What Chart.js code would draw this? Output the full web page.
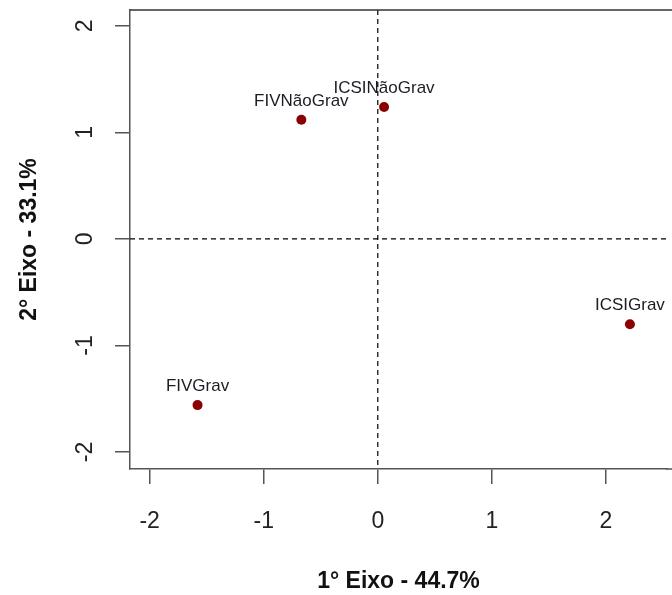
<!DOCTYPE html>
<html>
<head>
<meta charset="utf-8">
<script src="https://cdn.jsdelivr.net/npm/chart.js@4.4.1/dist/chart.umd.min.js"></script>
<style>
  html, body { margin: 0; padding: 0; background: #fff; }
  #wrap { width: 672px; height: 595px; }
</style>
</head>
<body>
<div id="wrap"><canvas id="chart" width="672" height="595"></canvas></div>
<script>
// dados
const nomes = ["FIVNãoGrav", "ICSINãoGrav", "ICSIGrav", "FIVGrav"];
const eixo1 = [-0.67, 0.055, 2.21, -1.58];
const eixo2 = [1.12, 1.24, -0.80, -1.56];
const xTicks = [-2, -1, 0, 1, 2];
const yTicks = [-2, -1, 0, 1, 2];

const FONT = "'Liberation Sans', Arial, sans-serif";
const AXIS_COLOR = "#555";

const pontos = eixo1.map((x, i) => ({ x: x, y: eixo2[i] }));

// linhas tracejadas em zero, caixa, rótulos dos pontos e ticks do eixo y
const extras = {
  id: "extras",
  beforeDatasetsDraw(chart) {
    const { ctx, chartArea: a, scales } = chart;
    const x0 = scales.x.getPixelForValue(0);
    const y0 = scales.y.getPixelForValue(0);
    ctx.save();
    ctx.strokeStyle = "#000";
    ctx.lineWidth = 1.2;
    ctx.setLineDash([5, 4]);
    ctx.beginPath();
    ctx.moveTo(x0, a.top);
    ctx.lineTo(x0, a.bottom);
    ctx.moveTo(a.left, y0);
    ctx.lineTo(a.right, y0);
    ctx.stroke();
    ctx.setLineDash([]);
    // topo da caixa e prolongamento da base até a borda
    ctx.strokeStyle = "#333";
    ctx.lineWidth = 1.5;
    ctx.beginPath();
    ctx.moveTo(a.left, a.top);
    ctx.lineTo(chart.width, a.top);
    ctx.stroke();
    ctx.strokeStyle = AXIS_COLOR;
    ctx.beginPath();
    ctx.moveTo(a.right - 1, a.bottom);
    ctx.lineTo(chart.width, a.bottom);
    ctx.stroke();
    ctx.restore();
  },
  afterDatasetsDraw(chart) {
    const { ctx, scales } = chart;
    const meta = chart.getDatasetMeta(0);
    ctx.save();
    ctx.fillStyle = "#1c1c24";
    ctx.font = "17px " + FONT;
    ctx.textAlign = "center";
    ctx.textBaseline = "alphabetic";
    meta.data.forEach((pt, i) => {
      ctx.fillText(nomes[i], pt.x, pt.y - 14);
    });
    // rótulos do eixo y (rotacionados, estilo R)
    ctx.fillStyle = "#222";
    ctx.font = "23px " + FONT;
    ctx.textBaseline = "middle";
    yTicks.forEach(v => {
      const py = scales.y.getPixelForValue(v);
      ctx.save();
      ctx.translate(86, py);
      ctx.rotate(-Math.PI / 2);
      ctx.fillText(String(v), 0, 0);
      ctx.restore();
    });
    ctx.restore();
  }
};

new Chart(document.getElementById("chart"), {
  type: "scatter",
  data: {
    datasets: [{
      data: pontos,
      backgroundColor: "#8B0000",
      borderColor: "#8B0000",
      pointRadius: 5,
      pointHoverRadius: 5,
      borderWidth: 0
    }]
  },
  options: {
    responsive: false,
    maintainAspectRatio: false,
    animation: false,
    layout: { padding: { top: 10, right: 0, left: 0, bottom: 0 } },
    scales: {
      x: {
        type: "linear",
        min: -2.172,
        max: 2.535,
        afterBuildTicks: s => { s.ticks = xTicks.map(v => ({ value: v })); },
        afterFit: s => { s.height = 126; },
        grid: { drawOnChartArea: false, color: AXIS_COLOR, lineWidth: 1.5, tickLength: 15 },
        border: { color: AXIS_COLOR, width: 1.5 },
        ticks: {
          padding: 24,
          color: "#222",
          font: { family: FONT, size: 23 },
          maxRotation: 0,
          callback: v => String(v)
        },
        title: {
          display: true,
          text: "1° Eixo - 44.7%",
          color: "#111",
          font: { family: FONT, size: 23, weight: "bold" },
          padding: { top: 0, bottom: 0 }
        }
      },
      y: {
        type: "linear",
        min: -2.16,
        max: 2.15,
        afterBuildTicks: s => { s.ticks = yTicks.map(v => ({ value: v })); },
        afterFit: s => { s.width = 130; },
        grid: { drawOnChartArea: false, color: AXIS_COLOR, lineWidth: 1.5, tickLength: 15 },
        border: { color: AXIS_COLOR, width: 1.5 },
        ticks: { display: false },
        title: {
          display: true,
          text: "2° Eixo - 33.1%",
          color: "#111",
          font: { family: FONT, size: 23, weight: "bold" },
          padding: { top: 16, bottom: 0 }
        }
      }
    },
    plugins: {
      legend: { display: false },
      tooltip: { enabled: false }
    }
  },
  plugins: [extras]
});
</script>
</body>
</html>
